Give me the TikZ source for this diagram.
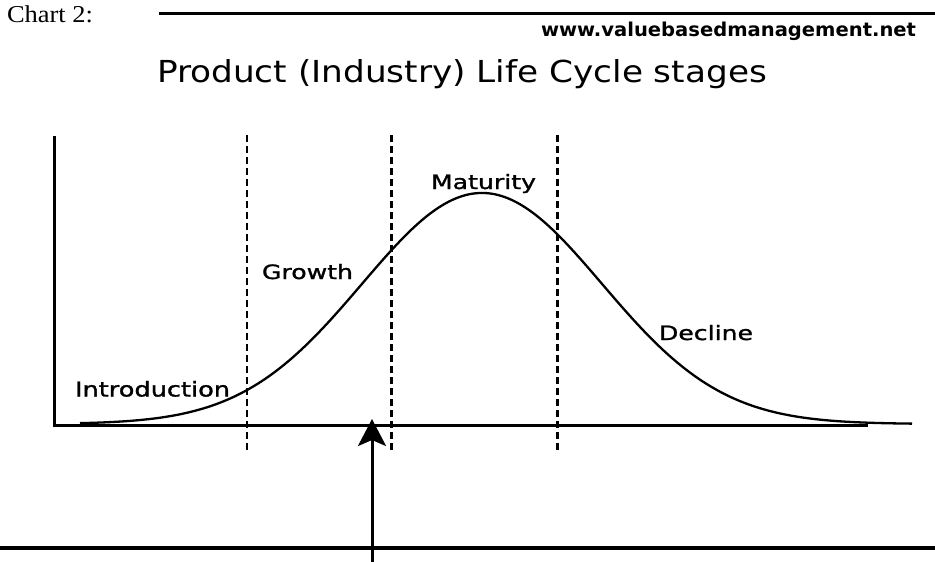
\documentclass[tikz,border=0pt]{standalone}
\usepackage{fontspec}
\usepackage{graphicx}
\setmainfont{Liberation Serif}
\newfontfamily\pixfont[FakeBold=1.2]{DejaVu Sans}
\newfontfamily\urlfont{DejaVu Sans}
\usetikzlibrary{arrows.meta}
\newcommand{\fitbox}[3]{\resizebox{#1pt}{#2pt}{#3}}
\tikzset{
  lbl/.style={anchor=base west, inner sep=0pt, outer sep=0pt},
  rule/.style={line width=3.2pt},
  axisline/.style={line width=3pt},
  stagediv/.style={line width=2.8pt, dash pattern=on 7pt off 4pt},
  curveline/.style={line width=2.3pt},
  pointer/.style={line width=3pt, -{Stealth[length=27pt, width=28pt, inset=6pt]}}
}
\begin{document}
\begin{tikzpicture}[x=1pt, y=-1pt]
\path[use as bounding box] (0,0) rectangle (935,562);
% texts
\node[lbl] (chart) at (7,22.7) {\fitbox{86}{16.8}{Chart 2:}};
\node[lbl] (url) at (541,36.7) {\fitbox{375}{14.5}{\urlfont\bfseries www.valuebasedmanagement.net}};
\node[lbl] (title) at (157,82) {\fitbox{610}{23}{\urlfont Product (Industry) Life Cycle stages}};
\node[lbl] (intro) at (75,396.5) {\fitbox{155}{15.5}{\pixfont Introduction}};
\node[lbl] (growth) at (262,279) {\fitbox{91}{15}{\pixfont Growth}};
\node[lbl] (maturity) at (431,189) {\fitbox{105}{15}{\pixfont Maturity}};
\node[lbl] (decline) at (659,340) {\fitbox{94}{15}{\pixfont Decline}};
% rules
\coordinate (topL) at (159,13.5);
\coordinate (topR) at (935,13.5);
\draw[rule] (topL) -- (topR);
\coordinate (botL) at (0,548);
\coordinate (botR) at (935,548);
\draw[rule] (botL) -- (botR);
% axes
\coordinate (yTop) at (54,137);
\coordinate (origin) at (54,425);
\coordinate (xEnd) at (866,425);
\draw[axisline, line cap=rect] (yTop) -- (origin) -- (xEnd);
% stage dividers
\foreach \n/\xx in {d1/247,d2/391.5,d3/557.5}{
  \coordinate (\n top) at (\xx,135);
  \coordinate (\n bot) at (\xx,450);
  \draw[stagediv] (\n top) -- (\n bot);
}
% life cycle curve
\draw[curveline] plot[domain=80:912, samples=240, smooth] (\x, {424-231*exp(-((\x-482)/169.7)^2)});
% arrow
\coordinate (arrTail) at (372,562);
\coordinate (arrTip) at (372,419);
\draw[pointer] (arrTail) -- (arrTip);
\end{tikzpicture}
\end{document}
